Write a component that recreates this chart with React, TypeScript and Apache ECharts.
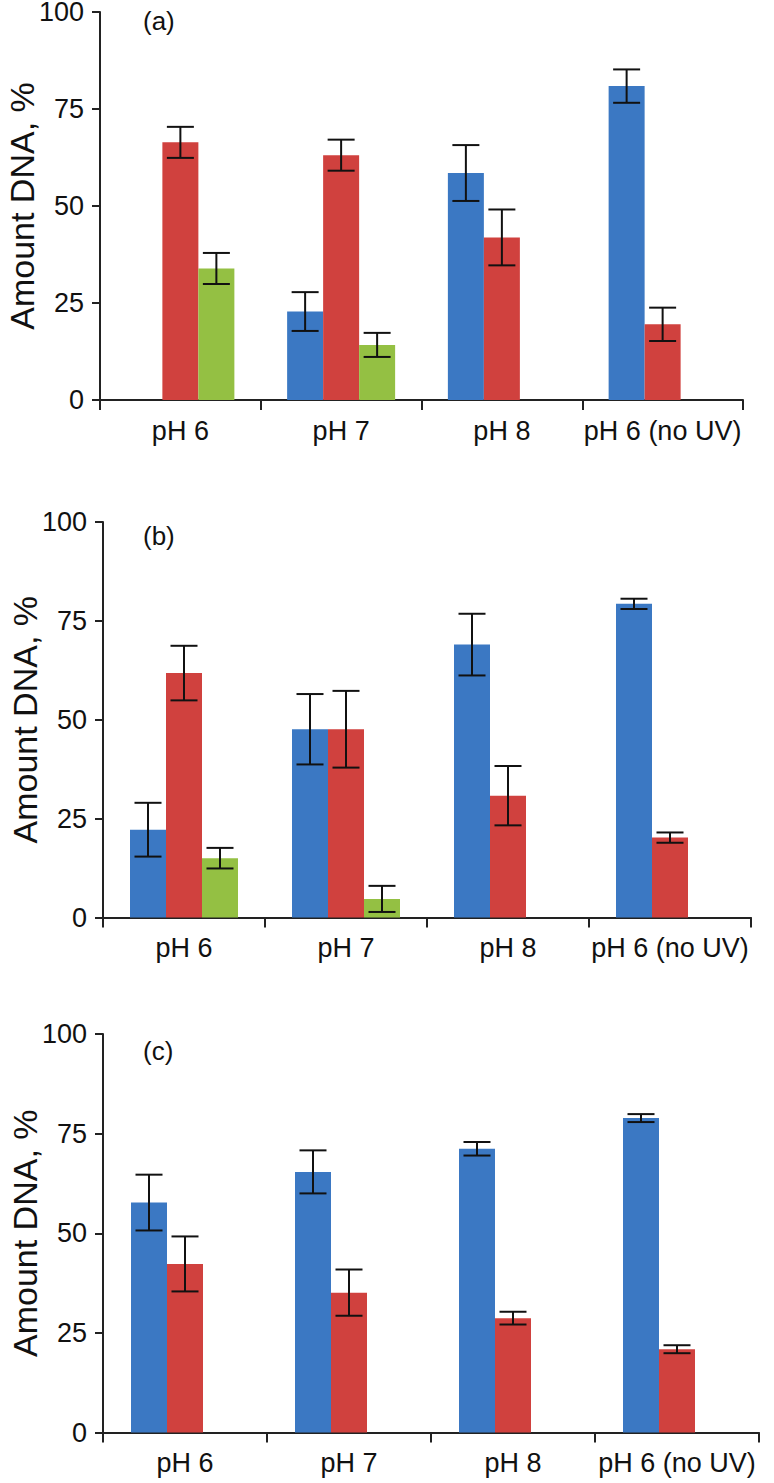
import React, { useEffect, useRef } from "react";
import * as echarts from "echarts";

const categories = ["pH 6", "pH 7", "pH 8", "pH 6 (no UV)"];
const yMin = 0;
const yMax = 100;
const yInterval = 25;
const yTitle = "Amount DNA, %";
const panelLabels = ["(a)", "(b)", "(c)"];

// Panel (a)
const aBlue = [null, 22.8, 58.5, 80.9];
const aBlueErr = [null, 5.0, 7.2, 4.3];
const aRed = [66.4, 63.1, 41.9, 19.5];
const aRedErr = [4.0, 4.0, 7.2, 4.3];
const aGreen = [33.9, 14.2, null, null];
const aGreenErr = [4.0, 3.1, null, null];

// Panel (b)
const bBlue = [22.2, 47.6, 69.0, 79.3];
const bBlueErr = [6.8, 8.9, 7.8, 1.3];
const bRed = [61.8, 47.6, 30.8, 20.2];
const bRedErr = [6.9, 9.7, 7.5, 1.3];
const bGreen = [15.0, 4.7, null, null];
const bGreenErr = [2.6, 3.3, null, null];

// Panel (c)
const cBlue = [57.7, 65.4, 71.2, 78.9];
const cBlueErr = [7.0, 5.4, 1.7, 1.0];
const cRed = [42.3, 35.1, 28.7, 20.9];
const cRedErr = [6.9, 5.8, 1.6, 1.0];
const cGreen = [null, null, null, null];
const cGreenErr = [null, null, null, null];

const BLUE = "#3b78c3";
const RED = "#d0413e";
const GREEN = "#94c043";
const AXIS = "#222";
const FONT = "'Liberation Sans', Arial, Helvetica, sans-serif";
const BAR_W = 36;

const panels = [
  { blue: aBlue, blueErr: aBlueErr, red: aRed, redErr: aRedErr, green: aGreen, greenErr: aGreenErr,
    grid: { left: 100, right: 31, top: 12, height: 388 }, labelY: 22 },
  { blue: bBlue, blueErr: bBlueErr, red: bRed, redErr: bRedErr, green: bGreen, greenErr: bGreenErr,
    grid: { left: 103, right: 23, top: 522, height: 395.5 }, labelY: 537 },
  { blue: cBlue, blueErr: cBlueErr, red: cRed, redErr: cRedErr, green: cGreen, greenErr: cGreenErr,
    grid: { left: 103, right: 15, top: 1034, height: 398.5 }, labelY: 1052 },
];

function buildOption() {
  const grid: any[] = [];
  const xAxis: any[] = [];
  const yAxis: any[] = [];
  const series: any[] = [];
  const graphic: any[] = [];

  panels.forEach((p, i) => {
    grid.push({ ...p.grid, containLabel: false, outerBoundsMode: "none" });
    xAxis.push({
      type: "category",
      gridIndex: i,
      data: categories,
      axisLine: { show: true, lineStyle: { color: AXIS, width: 2 } },
      axisTick: { show: true, length: 10, lineStyle: { color: AXIS, width: 2 } },
      axisLabel: { color: "#111", fontSize: 27, fontFamily: FONT, margin: 17, interval: 0 },
      splitLine: { show: false },
    });
    yAxis.push({
      type: "value",
      gridIndex: i,
      min: yMin,
      max: yMax,
      interval: yInterval,
      name: yTitle,
      nameLocation: "middle",
      nameRotate: 90,
      nameGap: 61,
      nameMoveOverlap: false,
      nameTextStyle: { color: "#111", fontSize: 34, lineHeight: 34, fontFamily: FONT },
      axisLine: { show: true, lineStyle: { color: AXIS, width: 2 } },
      axisTick: { show: true, length: 8, lineStyle: { color: AXIS, width: 2 } },
      axisLabel: { color: "#111", fontSize: 27, lineHeight: 22, fontFamily: FONT, margin: 16 },
      splitLine: { show: false },
    });
    const sets = [
      { vals: p.blue, errs: p.blueErr, color: BLUE },
      { vals: p.red, errs: p.redErr, color: RED },
      { vals: p.green, errs: p.greenErr, color: GREEN },
    ];
    sets.forEach((s) => {
      series.push({
        type: "bar",
        xAxisIndex: i,
        yAxisIndex: i,
        data: s.vals.map((v) => (v == null ? "-" : v)),
        barWidth: BAR_W,
        barGap: "0%",
        itemStyle: { color: s.color },
      });
    });
    const errData: any[] = [];
    sets.forEach((s, k) => {
      s.vals.forEach((v, c) => {
        const e = s.errs[c];
        if (v != null && e != null) errData.push([c, v - e, v + e, k]);
      });
    });
    series.push({
      type: "custom",
      xAxisIndex: i,
      yAxisIndex: i,
      data: errData,
      z: 10,
      renderItem: (params: any, api: any) => {
        const c = api.value(0);
        const lo = api.coord([c, api.value(1)]);
        const hi = api.coord([c, api.value(2)]);
        const k = api.value(3);
        const x = lo[0] + (k - 1) * BAR_W;
        const hw = 13.5;
        const style = { stroke: "#111", lineWidth: 2 };
        return {
          type: "group",
          children: [
            { type: "line", shape: { x1: x, y1: lo[1], x2: x, y2: hi[1] }, style },
            { type: "line", shape: { x1: x - hw, y1: lo[1], x2: x + hw, y2: lo[1] }, style },
            { type: "line", shape: { x1: x - hw, y1: hi[1], x2: x + hw, y2: hi[1] }, style },
          ],
        };
      },
    });
    graphic.push({
      type: "text",
      left: 143,
      top: p.labelY - 14,
      style: { text: panelLabels[i], fill: "#111", fontSize: 26, fontFamily: FONT },
    });
  });

  return { animation: false, backgroundColor: "#fff", grid, xAxis, yAxis, series, graphic };
}

export default function App() {
  const ref = useRef<HTMLDivElement>(null);
  useEffect(() => {
    if (!ref.current) return;
    const chart = echarts.init(ref.current, undefined, { renderer: "svg" });
    chart.setOption(buildOption() as any);
    return () => chart.dispose();
  }, []);
  return (
    <div
      ref={ref}
      style={{ position: "absolute", left: 0, top: 0, width: 774, height: 1483, background: "#fff" }}
    />
  );
}
